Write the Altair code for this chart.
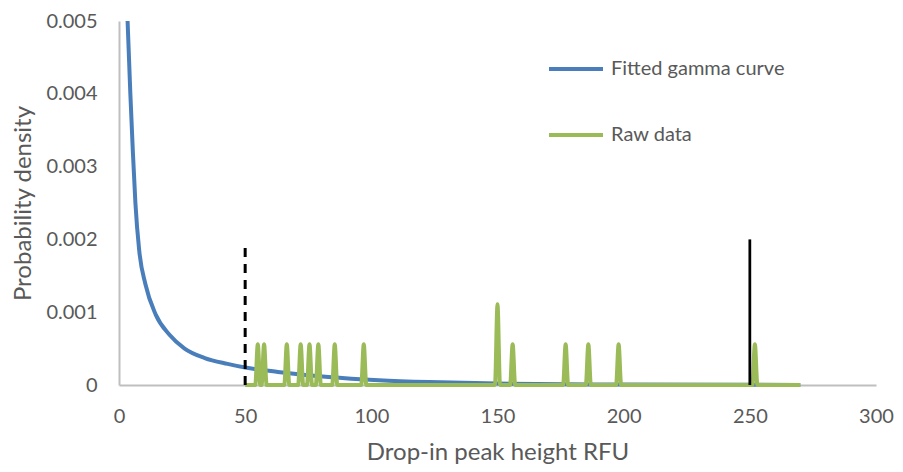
import altair as alt
import pandas as pd

# Fitted gamma curve
gamma_x = [3.4, 4.5, 5.5, 6.5, 8, 10.5, 14.5, 20, 26, 34, 43, 50, 63, 83, 103, 123, 150, 200, 270]
gamma_y = [0.0050, 0.0040, 0.0032, 0.0025, 0.00185, 0.00138, 0.00097, 0.00069, 0.00050,
           0.00037, 0.00029, 0.00024, 0.000180, 0.00011, 0.000066, 0.000040, 0.00002,
           0.000006, 0.000001]

# Raw data spikes
raw_peak_x = [55, 57.5, 66.5, 72, 75.5, 79, 85.5, 97, 150, 156, 177, 186, 198, 252]
raw_peak_y = [0.00056, 0.00056, 0.00056, 0.00056, 0.00056, 0.00056, 0.00056, 0.00056,
              0.00111, 0.00056, 0.00056, 0.00056, 0.00056, 0.00056]
raw_start = 50
raw_end = 270
raw_halfwidth = 1

# Threshold lines
dashed_x = [50]
dashed_top = [0.0019]
solid_x = [250]
solid_top = [0.0020]

series_names = ["Fitted gamma curve", "Raw data"]
series_colors = ["#4a7ebb", "#9bbb59"]

rows = []
for x, y in zip(gamma_x, gamma_y):
    rows.append({"series": series_names[0], "x": x, "y": y})
pts = [(raw_start, 0.0)]
for x, y in zip(raw_peak_x, raw_peak_y):
    pts += [(x - raw_halfwidth, 0.0), (x, y), (x + raw_halfwidth, 0.0)]
pts.append((raw_end, 0.0))
for x, y in pts:
    rows.append({"series": series_names[1], "x": x, "y": y})
lines_df = pd.DataFrame(rows)

dashed_df = pd.DataFrame({"x": dashed_x, "y0": [0.0] * len(dashed_x), "y1": dashed_top})
solid_df = pd.DataFrame({"x": solid_x, "y0": [0.0] * len(solid_x), "y1": solid_top})

FONT = "Lato"
GREY = "#595959"

xscale = alt.Scale(domain=[0, 300], nice=False, zero=False)
yscale = alt.Scale(domain=[0, 0.005], nice=False)

xaxis = alt.Axis(
    values=[0, 50, 100, 150, 200, 250, 300], title="Drop-in peak height RFU",
    grid=False, ticks=False, tickSize=0, domainColor="#bfbfbf", domainWidth=2,
    labelFont=FONT, labelFontSize=20, labelColor=GREY, labelPadding=21, labelFlush=False,
    titleFont=FONT, titleFontSize=24, titleColor=GREY, titleFontWeight="normal",
    titleBaseline="alphabetic", titleY=74,
)
yaxis = alt.Axis(
    values=[0, 0.001, 0.002, 0.003, 0.004, 0.005], title="Probability density",
    labelExpr="datum.value == 0 ? '0' : format(datum.value, '.3f')",
    grid=False, ticks=False, tickSize=0, domainColor="#bfbfbf", domainWidth=2,
    labelFont=FONT, labelFontSize=20, labelColor=GREY, labelPadding=22, labelFlush=False,
    titleFont=FONT, titleFontSize=24, titleColor=GREY, titleFontWeight="normal",
    titleBaseline="alphabetic", titleX=-89, titleY=182, titleAngle=-90,
)

lines = alt.Chart(lines_df).mark_line(strokeWidth=4, interpolate="monotone").encode(
    x=alt.X("x:Q", scale=xscale, axis=xaxis),
    y=alt.Y("y:Q", scale=yscale, axis=yaxis),
    color=alt.Color(
        "series:N",
        scale=alt.Scale(domain=series_names, range=series_colors),
        legend=alt.Legend(
            title=None, orient="none", legendX=428, legendY=19,
            symbolType="stroke", symbolSize=2916, symbolStrokeWidth=4,
            labelFont=FONT, labelFontSize=20, labelColor=GREY, labelOffset=6,
            labelLimit=0, rowPadding=27, padding=0,
        ),
    ),
)

dashed = alt.Chart(dashed_df).mark_rule(color="black", strokeWidth=3, strokeDash=[9, 7]).encode(
    x="x:Q", y="y0:Q", y2="y1:Q"
)
solid = alt.Chart(solid_df).mark_rule(color="black", strokeWidth=2.75).encode(
    x="x:Q", y="y0:Q", y2="y1:Q"
)

chart = alt.layer(lines, dashed, solid).properties(
    width=757, height=364,
    autosize=alt.AutoSizeParams(type="none"),
    padding={"left": 111, "top": 13, "right": 19, "bottom": 79},
).configure_view(stroke=None)

chart.save("out.html", embed_options={"renderer": "svg", "actions": False})
